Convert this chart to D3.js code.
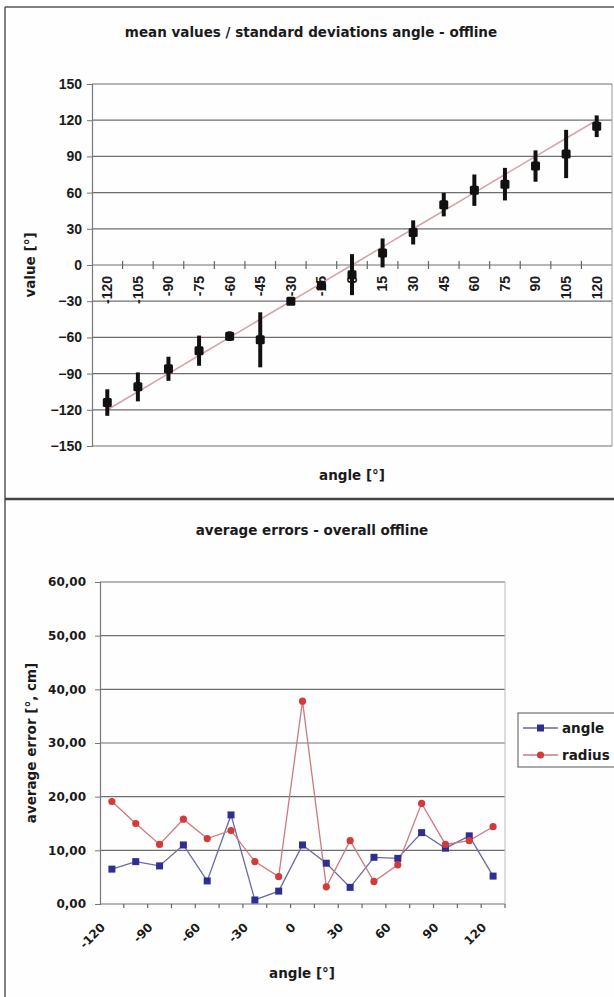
<!DOCTYPE html>
<html>
<head>
<meta charset="utf-8">
<script src="https://cdn.jsdelivr.net/npm/d3@7"></script>
<style>
  html, body { margin: 0; padding: 0; background: #ffffff; }
  svg { display: block; }
  text { font-family: "DejaVu Sans", Verdana, sans-serif; font-weight: bold; fill: #1a1a1a; }
</style>
</head>
<body>
<div id="chart"></div>
<script>
// ---------- data ----------
const categories = [-120, -105, -90, -75, -60, -45, -30, -15, 0, 15, 30, 45, 60, 75, 90, 105, 120];
const meanValues = [-114, -101, -86, -71, -59, -62, -30, -17, -8, 10, 27, 50, 62, 67, 82, 92, 115];
const stdDevs    = [11, 12, 10, 12.5, 4, 22.8, 3, 4, 17, 12, 10, 9.7, 13, 13.5, 13, 20, 9];
const idealValues = [-120, -105, -90, -75, -60, -45, -30, -15, 0, 15, 30, 45, 60, 75, 90, 105, 120];
const topYTicks = [-150, -120, -90, -60, -30, 0, 30, 60, 90, 120, 150];

const angleErrors  = [6.5, 7.9, 7.1, 11.0, 4.3, 16.6, 0.75, 2.4, 11.0, 7.6, 3.1, 8.7, 8.5, 13.3, 10.4, 12.7, 5.2];
const radiusErrors = [19.1, 15.0, 11.1, 15.8, 12.2, 13.7, 7.9, 5.1, 37.8, 3.2, 11.8, 4.2, 7.3, 18.75, 11.1, 11.8, 14.4];
const bottomYTicks = [0, 10, 20, 30, 40, 50, 60];
const bottomXLabels = [-120, -90, -60, -30, 0, 30, 60, 90, 120];
const seriesNames = ["angle", "radius"];

// ---------- svg ----------
const W = 614, H = 997;
const svg = d3.select("#chart").append("svg").attr("width", W).attr("height", H);
svg.append("rect").attr("width", W).attr("height", H).attr("fill", "#fefefe");

// frame lines
svg.append("line").attr("x1", 5).attr("x2", 5).attr("y1", 7).attr("y2", H).attr("stroke", "#555").attr("stroke-width", 1.5);
svg.append("line").attr("x1", 5).attr("x2", W).attr("y1", 7).attr("y2", 7).attr("stroke", "#555").attr("stroke-width", 1.5);
svg.append("line").attr("x1", 5).attr("x2", W).attr("y1", 499).attr("y2", 499).attr("stroke", "#444").attr("stroke-width", 2.5);

const gridColor = "#6e6e6e";

// ================= TOP CHART =================
const gTop = svg.append("g");
const xT = d3.scaleBand().domain(categories).range([92, 612]);
const yT = d3.scaleLinear().domain([-150, 150]).range([446, 84]);

gTop.append("text").attr("x", 311).attr("y", 37).attr("text-anchor", "middle")
  .style("font-size", "13.5px").text("mean values / standard deviations angle - offline");

// gridlines
gTop.selectAll(".gT").data(topYTicks).join("line")
  .attr("x1", 92).attr("x2", 612)
  .attr("y1", d => yT(d)).attr("y2", d => yT(d))
  .attr("stroke", gridColor).attr("stroke-width", 1.2);
// right border
gTop.append("line").attr("x1", 612).attr("x2", 612).attr("y1", yT(150)).attr("y2", yT(-150))
  .attr("stroke", "#999").attr("stroke-width", 1);

// y axis
const yAxisT = d3.axisLeft(yT).tickValues(topYTicks).tickSize(5).tickPadding(5);
const gyT = gTop.append("g").attr("transform", "translate(92,0)").call(yAxisT);
gyT.select(".domain").attr("stroke", "#777").attr("stroke-width", 1.2);
gyT.selectAll(".tick line").attr("stroke", "#777");
gyT.selectAll(".tick text").style("font-family", "'Liberation Sans', Arial, sans-serif").style("font-size", "14px");

// x axis on zero line: ticks at category boundaries (cross)
const boundaries = categories.map(c => xT(c)).concat([xT(categories[categories.length - 1]) + xT.bandwidth()]);
gTop.selectAll(".xtT").data(boundaries.slice(1, -1)).join("line")
  .attr("x1", d => d).attr("x2", d => d)
  .attr("y1", yT(0) - 4).attr("y2", yT(0) + 4)
  .attr("stroke", "#666").attr("stroke-width", 1.2);

// category labels (rotated)
gTop.selectAll(".xlT").data(categories).join("text")
  .attr("transform", d => `translate(${xT(d) + xT.bandwidth() / 2},${yT(0) + 11}) rotate(-90)`)
  .attr("text-anchor", "end").attr("dy", "0.35em")
  .style("font-family", "'Liberation Sans', Arial, sans-serif")
  .style("font-size", "14px")
  .text(d => d);

// ideal line
const lineT = d3.line().x((d, i) => xT(categories[i]) + xT.bandwidth() / 2).y(d => yT(d));
gTop.append("path").datum(idealValues).attr("d", lineT)
  .attr("fill", "none").attr("stroke", "#d9a3a8").attr("stroke-width", 1.6);

// error bars
gTop.selectAll(".eb").data(categories).join("line")
  .attr("x1", d => xT(d) + xT.bandwidth() / 2).attr("x2", d => xT(d) + xT.bandwidth() / 2)
  .attr("y1", (d, i) => yT(meanValues[i] + stdDevs[i]))
  .attr("y2", (d, i) => yT(meanValues[i] - stdDevs[i]))
  .attr("stroke", "#111").attr("stroke-width", 4);
// markers
gTop.selectAll(".mk").data(categories).join("rect")
  .attr("x", d => xT(d) + xT.bandwidth() / 2 - 4.5)
  .attr("y", (d, i) => yT(meanValues[i]) - 4.5)
  .attr("width", 9).attr("height", 9).attr("rx", 1.5)
  .attr("fill", "#111");

// axis titles
gTop.append("text").attr("x", 352).attr("y", 480).attr("text-anchor", "middle")
  .style("font-size", "13.5px").text("angle [°]");
gTop.append("text").attr("transform", `translate(30,${yT(0)}) rotate(-90)`)
  .attr("text-anchor", "middle").attr("dy", "0.35em")
  .style("font-size", "13.5px").text("value [°]");

// ================= BOTTOM CHART =================
const gBot = svg.append("g");
const xB = d3.scaleBand().domain(categories).range([100, 505]);
const yB = d3.scaleLinear().domain([0, 60]).range([904, 582]);
const fmt = d => d3.format(".2f")(d).replace(".", ",");

gBot.append("text").attr("x", 312).attr("y", 535).attr("text-anchor", "middle")
  .style("font-size", "13.5px").text("average errors - overall offline");

gBot.selectAll(".gB").data(bottomYTicks).join("line")
  .attr("x1", 100).attr("x2", 505)
  .attr("y1", d => yB(d)).attr("y2", d => yB(d))
  .attr("stroke", gridColor).attr("stroke-width", 1.2);
gBot.append("line").attr("x1", 505).attr("x2", 505).attr("y1", yB(60)).attr("y2", yB(0))
  .attr("stroke", "#bbb").attr("stroke-width", 1);

const yAxisB = d3.axisLeft(yB).tickValues(bottomYTicks).tickFormat(fmt).tickSize(5).tickPadding(9);
const gyB = gBot.append("g").attr("transform", "translate(100,0)").call(yAxisB);
gyB.select(".domain").attr("stroke", "#777").attr("stroke-width", 1.2);
gyB.selectAll(".tick line").attr("stroke", "#777");
gyB.selectAll(".tick text").style("font-size", "12px");

const boundB = categories.map(c => xB(c)).concat([xB(categories[categories.length - 1]) + xB.bandwidth()]);
gBot.selectAll(".xtB").data(boundB.slice(1)).join("line")
  .attr("x1", d => d).attr("x2", d => d)
  .attr("y1", yB(0)).attr("y2", yB(0) + 4)
  .attr("stroke", "#666").attr("stroke-width", 1.2);

gBot.selectAll(".xlB").data(bottomXLabels).join("text")
  .attr("transform", d => `translate(${xB(d) + xB.bandwidth() / 2 - 9},${yB(0) + 21}) rotate(-45)`)
  .attr("text-anchor", "end").attr("dy", "0.35em")
  .style("font-size", "12px")
  .text(d => d);

const cx = (d, i) => xB(categories[i]) + xB.bandwidth() / 2;
const lineB = d3.line().x(cx).y(d => yB(d));
gBot.append("path").datum(angleErrors).attr("d", lineB)
  .attr("fill", "none").attr("stroke", "#6a6a9e").attr("stroke-width", 1.3);
gBot.append("path").datum(radiusErrors).attr("d", lineB)
  .attr("fill", "none").attr("stroke", "#cc7a80").attr("stroke-width", 1.3);

gBot.selectAll(".mA").data(angleErrors).join("rect")
  .attr("x", (d, i) => cx(d, i) - 3.5).attr("y", d => yB(d) - 3.5)
  .attr("width", 7).attr("height", 7).attr("fill", "#2e2e94");
gBot.selectAll(".mR").data(radiusErrors).join("circle")
  .attr("cx", cx).attr("cy", d => yB(d)).attr("r", 3.6).attr("fill", "#d33a3a");

gBot.append("text").attr("x", 302).attr("y", 978).attr("text-anchor", "middle")
  .style("font-size", "13.5px").text("angle [°]");
gBot.append("text").attr("transform", `translate(31,${(yB(0) + yB(60)) / 2}) rotate(-90)`)
  .attr("text-anchor", "middle").attr("dy", "0.35em")
  .style("font-size", "13.5px").text("average error [°, cm]");

// legend
const lg = gBot.append("g").attr("transform", "translate(518,713)");
lg.append("rect").attr("x", 0).attr("y", 0).attr("width", 100).attr("height", 54)
  .attr("fill", "#fff").attr("stroke", "#555").attr("stroke-width", 1);
const lgColors = [["#6a6a9e", "#2e2e94"], ["#cc7a80", "#d33a3a"]];
seriesNames.forEach((name, i) => {
  const yy = 15 + i * 27;
  lg.append("line").attr("x1", 5).attr("x2", 40).attr("y1", yy).attr("y2", yy)
    .attr("stroke", lgColors[i][0]).attr("stroke-width", 1.3);
  if (i === 0) {
    lg.append("rect").attr("x", 19).attr("y", yy - 3.5).attr("width", 7).attr("height", 7).attr("fill", lgColors[i][1]);
  } else {
    lg.append("circle").attr("cx", 22.5).attr("cy", yy).attr("r", 3.6).attr("fill", lgColors[i][1]);
  }
  lg.append("text").attr("x", 44).attr("y", yy).attr("dy", "0.35em")
    .style("font-size", "13.5px").text(name);
});
</script>
</body>
</html>
